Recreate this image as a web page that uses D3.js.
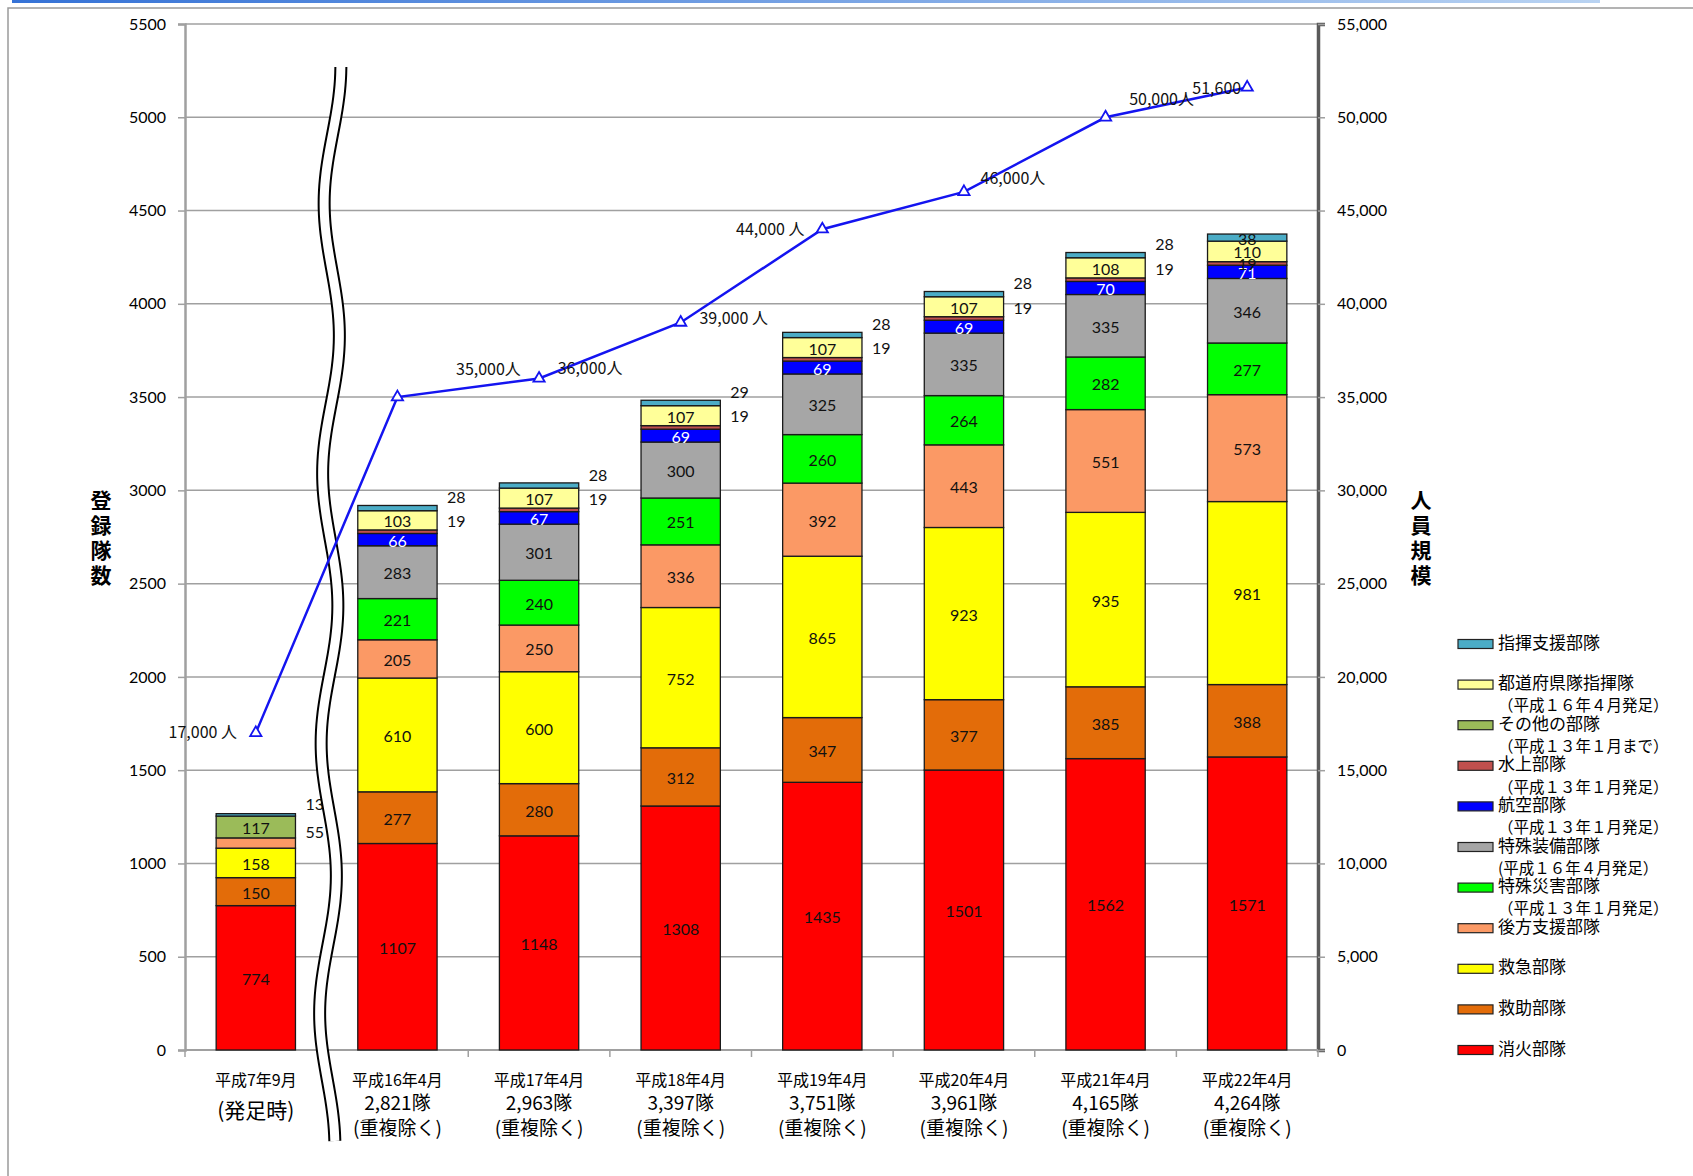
<!DOCTYPE html>
<html>
<head>
<meta charset="utf-8">
<script src="https://cdn.jsdelivr.net/npm/d3@7"></script>
<style>
  body { margin: 0; background: #fff; }
  svg text { font-family: "Noto Sans CJK JP", sans-serif; }
  .num { font-family: Lato, "Liberation Sans", sans-serif; }
</style>
</head>
<body>
<svg id="chart" width="1693" height="1176"></svg>
<script>
"use strict";

// categories (x axis)
const categories = ["H7.9", "H16.4", "H17.4", "H18.4", "H19.4", "H20.4", "H21.4", "H22.4"];
const catDate = ["平成7年9月", "平成16年4月", "平成17年4月", "平成18年4月", "平成19年4月", "平成20年4月", "平成21年4月", "平成22年4月"];
const catTotal = ["(発足時)", "2,821隊", "2,963隊", "3,397隊", "3,751隊", "3,961隊", "4,165隊", "4,264隊"];

// series, bottom to top
const seriesNames = ["消火部隊", "救助部隊", "救急部隊", "後方支援部隊", "特殊災害部隊", "特殊装備部隊",
  "航空部隊", "水上部隊", "その他の部隊", "都道府県隊指揮隊", "指揮支援部隊"];
const shoka      = [774, 1107, 1148, 1308, 1435, 1501, 1562, 1571];
const kyujo      = [150, 277, 280, 312, 347, 377, 385, 388];
const kyukyu     = [158, 610, 600, 752, 865, 923, 935, 981];
const kohou      = [55, 205, 250, 336, 392, 443, 551, 573];
const tokusai    = [0, 221, 240, 251, 260, 264, 282, 277];
const tokusou    = [0, 283, 301, 300, 325, 335, 335, 346];
const koku       = [0, 66, 67, 69, 69, 69, 70, 71];
const suijo      = [0, 19, 19, 19, 19, 19, 19, 19];
const sonota     = [117, 0, 0, 0, 0, 0, 0, 0];
const todofuken  = [0, 103, 107, 107, 107, 107, 108, 110];
const shikishien = [13, 28, 28, 29, 28, 28, 28, 38];
const seriesValues = [shoka, kyujo, kyukyu, kohou, tokusai, tokusou, koku, suijo, sonota, todofuken, shikishien];

// personnel line (right axis)
const persons = [17000, 35000, 36000, 39000, 44000, 46000, 50000, 51600];
const personLabels = ["17,000 人", "35,000人", "36,000人", "39,000 人", "44,000 人", "46,000人", "50,000人", "51,600"];

// legend (top to bottom) with the note line shown above each name
const legendNames = ["指揮支援部隊", "都道府県隊指揮隊", "その他の部隊", "水上部隊", "航空部隊", "特殊装備部隊",
  "特殊災害部隊", "後方支援部隊", "救急部隊", "救助部隊", "消火部隊"];
const legendNotes = ["", "", "（平成１６年４月発足）", "（平成１３年１月まで）", "（平成１３年１月発足）",
  "（平成１３年１月発足）", "(平成１６年４月発足）", "（平成１３年１月発足）", "", "", ""];

const leftTicks = d3.range(0, 5501, 500);
const rightTicks = d3.range(0, 55001, 5000);

// styles
const colors = ["#ff0000", "#e36c09", "#ffff00", "#fb9965", "#00ff00", "#a6a6a6",
  "#0000ff", "#c0504d", "#9bbb59", "#ffff99", "#4bacc6"];
const personOffsets = [[-53, 1], [91, -26], [51, -9], [53, -3], [-52, 1], [49, -12], [56, -17], [-6, 2]];

const svg = d3.select("#chart");
const L = 185, R = 1318, T = 24, B = 1050;

const x = d3.scaleBand().domain(categories).range([L, R]).paddingInner(0.44).paddingOuter(0.22);
const yL = d3.scaleLinear().domain([0, 5500]).range([B, T]);
const yR = d3.scaleLinear().domain([0, 55000]).range([B, T]);

// frame
const grad = svg.append("defs").append("linearGradient").attr("id", "topbar");
grad.append("stop").attr("offset", "0%").attr("stop-color", "#3572d6");
grad.append("stop").attr("offset", "100%").attr("stop-color", "#b9d3f2");
svg.append("rect").attr("x", 12).attr("y", 0).attr("width", 1588).attr("height", 3).attr("fill", "url(#topbar)");
svg.append("path").attr("d", `M8,1176 V8 H1693`).attr("fill", "none").attr("stroke", "#9a9a9a").attr("stroke-width", 1.5);

// gridlines
svg.append("g").selectAll("line").data(leftTicks.slice(1)).join("line")
  .attr("x1", L).attr("x2", R).attr("y1", d => yL(d)).attr("y2", d => yL(d))
  .attr("stroke", "#a0a0a0").attr("stroke-width", 1.5);

// left axis
const gl = svg.append("g").attr("transform", `translate(${L},0)`)
  .call(d3.axisLeft(yL).tickValues(leftTicks).tickFormat(d3.format("d")).tickSize(7).tickPadding(12));
gl.select(".domain").attr("stroke", "#a0a0a0").attr("stroke-width", 2.5);
gl.selectAll(".tick line").attr("stroke", "#a0a0a0").attr("stroke-width", 1.5);
gl.selectAll("text").attr("class", "num").attr("font-size", 16).attr("fill", "#000");

// right axis
const gr = svg.append("g").attr("transform", `translate(${R},0)`)
  .call(d3.axisRight(yR).tickValues(rightTicks).tickFormat(d3.format(",")).tickSize(7).tickPadding(12));
gr.select(".domain").attr("stroke", "#5a5a5a").attr("stroke-width", 3.5);
gr.selectAll(".tick line").attr("stroke", "#a0a0a0").attr("stroke-width", 1.5);
gr.selectAll("text").attr("class", "num").attr("font-size", 16).attr("fill", "#000");

// bottom axis
svg.append("line").attr("x1", L).attr("x2", R).attr("y1", B).attr("y2", B)
  .attr("stroke", "#a0a0a0").attr("stroke-width", 2);
svg.append("g").selectAll("line").data(d3.range(categories.length + 1)).join("line")
  .attr("x1", i => L + i * x.step()).attr("x2", i => L + i * x.step())
  .attr("y1", B).attr("y2", B + 7).attr("stroke", "#a0a0a0").attr("stroke-width", 1.5);

// stacked bars
const table = categories.map((c, i) => {
  const row = { cat: c };
  seriesNames.forEach((s, k) => { row[s] = seriesValues[k][i]; });
  return row;
});
const stacked = d3.stack().keys(seriesNames)(table);

const gBars = svg.append("g");
stacked.forEach((layer, k) => {
  gBars.append("g").selectAll("rect").data(layer.filter(d => d[1] - d[0] > 0)).join("rect")
    .attr("x", d => x(d.data.cat))
    .attr("width", x.bandwidth())
    .attr("y", d => yL(d[1]))
    .attr("height", d => yL(d[0]) - yL(d[1]))
    .attr("fill", colors[k])
    .attr("stroke", "#1a1a1a").attr("stroke-width", 1.3);
});

// segment labels
const last = categories.length - 1;
stacked.forEach((layer, k) => {
  layer.forEach((d, i) => {
    const v = d[1] - d[0];
    if (v <= 0) return;
    const mid = yL((d[0] + d[1]) / 2);
    const outside = v < 60 && i < last;
    svg.append("text").attr("class", "num")
      .attr("x", outside ? x(d.data.cat) + x.bandwidth() + 10 : x(d.data.cat) + x.bandwidth() / 2)
      .attr("y", outside ? mid - 9 : mid + 3)
      .attr("text-anchor", outside ? "start" : "middle")
      .attr("dominant-baseline", "middle")
      .attr("font-size", 16)
      .attr("fill", k === 6 && !outside ? "#fff" : "#111")
      .text(v);
  });
});

// axis break symbol
const breakX = L + x.step() * 1.03;
const wave = d3.line().curve(d3.curveBasis)(
  d3.range(67, 1147, 6).map(y => [breakX + 2 + 8 * Math.cos(2 * Math.PI * (y - 67) / 270) - 6 * (y - 67) / 1080, y]));
svg.append("path").attr("d", wave).attr("fill", "none").attr("stroke", "#000").attr("stroke-width", 13);
svg.append("path").attr("d", wave).attr("fill", "none").attr("stroke", "#fff").attr("stroke-width", 9);

// personnel line
const cx = i => x(categories[i]) + x.bandwidth() / 2;
svg.append("path")
  .attr("d", d3.line().x((d, i) => cx(i)).y(d => yR(d))(persons))
  .attr("fill", "none").attr("stroke", "#1414f0").attr("stroke-width", 2.5);
svg.append("g").selectAll("path").data(persons).join("path")
  .attr("d", d3.symbol(d3.symbolTriangle, 55))
  .attr("transform", (d, i) => `translate(${cx(i)},${yR(d)})`)
  .attr("fill", "#fff").attr("stroke", "#1414f0").attr("stroke-width", 1.8);
svg.append("g").selectAll("text").data(persons).join("text")
  .attr("x", (d, i) => cx(i) + personOffsets[i][0])
  .attr("y", (d, i) => yR(d) + personOffsets[i][1])
  .attr("text-anchor", (d, i) => i === last ? "end" : "middle")
  .attr("dominant-baseline", "middle")
  .attr("font-size", 16).attr("fill", "#111")
  .text((d, i) => personLabels[i]);

// x labels
const gx = svg.append("g");
categories.forEach((c, i) => {
  const xc = x(c) + x.bandwidth() / 2;
  gx.append("text").attr("x", xc).attr("y", 1086).attr("text-anchor", "middle")
    .attr("font-size", 16).text(catDate[i]);
  if (i === 0) {
    gx.append("text").attr("x", xc).attr("y", 1118).attr("text-anchor", "middle")
      .attr("font-size", 21).text(catTotal[i]);
  } else {
    gx.append("text").attr("x", xc).attr("y", 1110).attr("text-anchor", "middle")
      .attr("font-size", 19).text(catTotal[i]);
    gx.append("text").attr("x", xc).attr("y", 1135).attr("text-anchor", "middle")
      .attr("font-size", 19).text("(重複除く)");
  }
});

// axis titles, stacked vertically
const vTitle = (str, xPos) => {
  svg.append("g").selectAll("text").data(Array.from(str)).join("text")
    .attr("x", xPos).attr("y", (d, i) => 502 + i * 25)
    .attr("text-anchor", "middle").attr("dominant-baseline", "middle")
    .attr("font-size", 21).attr("font-weight", "bold").text(d => d);
};
vTitle("登録隊数", 101);
vTitle("人員規模", 1421);

// legend
const lg = svg.append("g").attr("transform", "translate(1458,644)");
legendNames.forEach((name, i) => {
  const k = seriesNames.indexOf(name);
  const row = lg.append("g").attr("transform", `translate(0,${i * 40.6})`);
  row.append("rect").attr("x", 0).attr("y", -4.5).attr("width", 35).attr("height", 9)
    .attr("fill", colors[k]).attr("stroke", "#222").attr("stroke-width", 1.2);
  row.append("text").attr("x", 40).attr("y", 0).attr("dominant-baseline", "middle")
    .attr("font-size", 17).text(name);
  if (legendNotes[i]) {
    row.append("text").attr("x", 40).attr("y", -18).attr("dominant-baseline", "middle")
      .attr("font-size", 15.5).text(legendNotes[i]);
  }
});
</script>
</body>
</html>
